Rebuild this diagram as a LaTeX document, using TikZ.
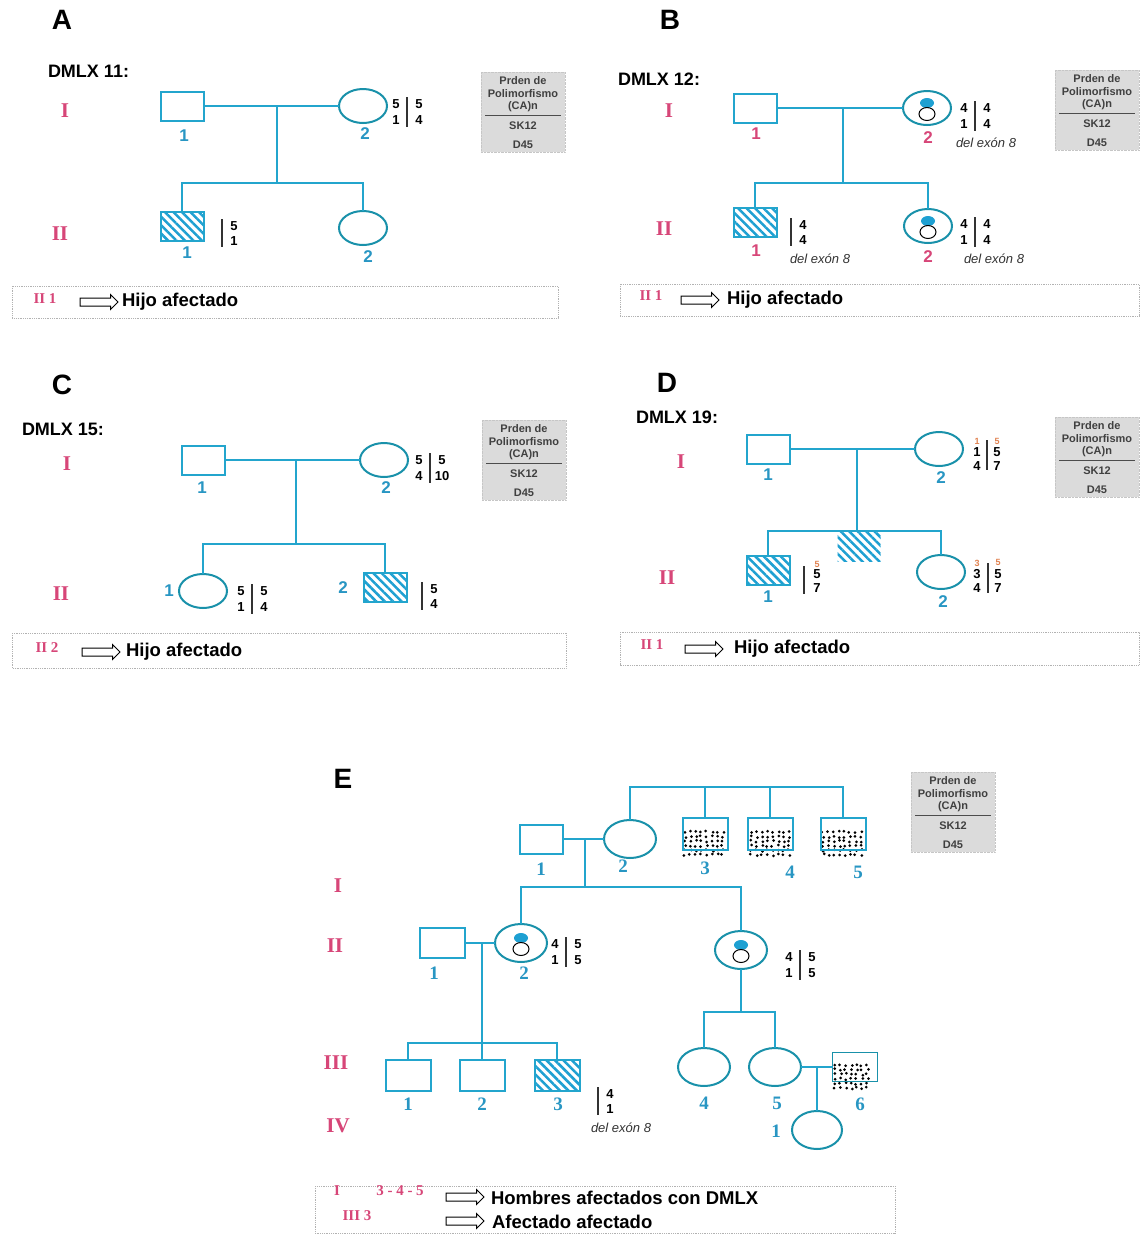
\documentclass[tikz,border=0pt]{standalone}
\usepackage{fontspec}
\setmainfont{Liberation Sans}
\newfontfamily\tmf{Liberation Serif}
\usetikzlibrary{shapes.geometric,shapes.arrows,patterns.meta,calc}
\newcommand{\fz}[1]{\fontsize{#1}{#1}\selectfont}
\definecolor{lc}{RGB}{35,165,205}
\definecolor{oc}{RGB}{25,145,170}
\definecolor{tl}{RGB}{40,150,195}
\definecolor{pk}{RGB}{215,70,120}
\definecolor{hb}{RGB}{30,160,210}
\definecolor{org}{RGB}{225,130,80}
\tikzset{
  every node/.style={inner sep=0pt, outer sep=0pt},
  ln/.style={lc, line width=2pt},
  male/.style={rectangle, draw=lc, line width=2pt, minimum width=43pt, minimum height=29pt},
  fem/.style={ellipse, draw=oc, line width=2pt, minimum width=48pt, minimum height=34pt},
  femE/.style={ellipse, draw=oc, line width=2pt, minimum width=52pt, minimum height=38pt},
  hatch/.style={pattern={Lines[angle=-45,distance=6pt,line width=2.5pt]}, pattern color=hb},
  lbl/.style={text=tl, font=\fz{17}\bfseries},
  lblp/.style={text=pk, font=\fz{17}\bfseries},
  lblE/.style={text=tl, font=\tmf\fz{19}\bfseries},
  gen/.style={text=pk, font=\tmf\fz{21}\bfseries},
  genS/.style={text=pk, font=\tmf\fz{15}\bfseries},
  al/.style={font=\fz{13}\bfseries},
  alo/.style={text=org, font=\fz{9}\bfseries},
  bar/.style={black!80, line width=1.3pt},
  ital/.style={font=\fz{13}\itshape, text=black!80},
  letter/.style={font=\fz{28}\bfseries},
  ttl/.style={font=\fz{18}\bfseries, anchor=west},
  legbg/.style={fill=gray!28, draw=gray!45, densely dotted, minimum width=84pt, minimum height=80pt},
  legt/.style={font=\fz{11}\bfseries, text=black!75},
  botbox/.style={draw=gray!60, densely dotted, line width=0.8pt},
  harrow/.style={single arrow, draw=black, line width=1pt, inner sep=3.5pt, minimum width=15pt, single arrow head extend=3.5pt, minimum height=38pt},
  bigt/.style={font=\fz{18.5}\bfseries, anchor=west},
  carb/.style={ellipse, fill=hb, minimum width=14pt, minimum height=10pt},
  carw/.style={ellipse, fill=white, draw=black, line width=1pt, minimum width=16pt, minimum height=13pt}
}
% allele block: name, bar x, center y, a, b, c, d
\newcommand{\allele}[7]{%
  \node[al] (#1a) at (#2-11,#3-8) {#4};
  \node[al] (#1b) at (#2-11,#3+8) {#5};
  \node[al] (#1c) at (#2+12,#3-8) {#6};
  \node[al] (#1d) at (#2+12,#3+8) {#7};
  \draw[bar] (#2,#3-15) -- (#2,#3+15);}
\newcommand{\halle}[5]{%
  \node[al] (#1c) at (#2+12,#3-7) {#4};
  \node[al] (#1d) at (#2+12,#3+8) {#5};
  \draw[bar] (#2,#3-14) -- (#2,#3+14);}
% legend box: name, center x, top y
\newcommand{\legbox}[3]{%
  \node[legbg, anchor=north] (#1) at (#2,#3) {};
  \node[legt] (#1a) at (#2,#3+9) {Prden de};
  \node[legt] (#1b) at (#2,#3+22) {Polimorfismo};
  \node[legt] (#1c) at (#2,#3+35) {(CA)n};
  \draw[black!70, line width=0.8pt] (#2-38,#3+43) -- (#2+38,#3+43);
  \node[legt] (#1d) at (#2,#3+54) {SK12};
  \node[legt] (#1e) at (#2,#3+73) {D45};}
\newcommand{\carrier}[1]{%
  \node[carb] (#1cb) at ($(#1)+(0,-5)$) {};
  \node[carw] (#1cw) at ($(#1)+(0,6)$) {};}
% random-looking dots: x0, y0, nx, ny
\newcommand{\dotbox}[4]{%
  \foreach \ii in {0,...,#3}{\foreach \jj in {0,...,#4}{%
    \fill[black] ({#1+\ii*5.4+1.3*rand},{#2+\jj*4.6+1.1*rand}) circle[radius=1.5pt];}}}
\begin{document}
\begin{tikzpicture}[x=1pt,y=-1pt]
\pgfmathsetseed{4711}
\useasboundingbox (0,0) rectangle (1140,1235);
\fill[white] (0,0) rectangle (1140,1235);

% ===================== Panel A =====================
\node[letter] (Alet) at (62,20) {A};
\node[ttl] (Attl) at (48,71) {DMLX 11:};
\node[gen] (AgI) at (65,111) {I};
\node[gen] (AgII) at (60,234) {II};
\node[male] (A1) at (182,106) {};
\node[fem] (A2) at (363,106) {};
\node[lbl] (A1l) at (184,136) {1};
\node[lbl] (A2l) at (365,134) {2};
\coordinate (Am) at (277,106);
\coordinate (As) at (277,183);
\node[male,hatch] (A3) at (182,226) {};
\node[fem] (A4) at (363,228) {};
\node[lbl] (A3l) at (187,253) {1};
\node[lbl] (A4l) at (368,257) {2};
\draw[ln] (A1.east) -- (A2.west);
\draw[ln] (Am) -- (As);
\draw[ln] (A3.north) |- (As) -| (A4.north);
\allele{Aa}{407}{112}{5}{1}{5}{4}
\halle{Ab}{222}{233}{5}{1}
\legbox{Aleg}{523}{72}
\draw[botbox] (12,286) rectangle (558,318);
\node[genS] (Abl) at (45,299) {II 1};
\node[harrow] (Aar) at (97,302) {};
\node[bigt] (Abt) at (122,302) {Hijo afectado};

% ===================== Panel B =====================
\node[letter] (Blet) at (670,20) {B};
\node[ttl] (Bttl) at (618,79) {DMLX 12:};
\node[gen] (BgI) at (669,111) {I};
\node[gen] (BgII) at (664,229) {II};
\node[male] (B1) at (755,108) {};
\node[fem] (B2) at (927,108) {};
\carrier{B2}
\node[lblp] (B1l) at (756,134) {1};
\node[lblp] (B2l) at (928,138) {2};
\coordinate (Bm) at (843,108);
\coordinate (Bs) at (843,183);
\node[male,hatch] (B3) at (755,222) {};
\node[fem] (B4) at (928,226) {};
\carrier{B4}
\node[lblp] (B3l) at (756,251) {1};
\node[lblp] (B4l) at (928,257) {2};
\draw[ln] (B1.east) -- (B2.west);
\draw[ln] (Bm) -- (Bs);
\draw[ln] (B3.north) |- (Bs) -| (B4.north);
\allele{Ba}{975}{116}{4}{1}{4}{4}
\node[ital] (Bd1) at (986,143) {del exón 8};
\halle{Bb}{791}{232}{4}{4}
\node[ital] (Bd2) at (820,259) {del exón 8};
\allele{Bc}{975}{232}{4}{1}{4}{4}
\node[ital] (Bd3) at (994,259) {del exón 8};
\legbox{Bleg}{1097}{70}
\draw[botbox] (620,284) rectangle (1139,316);
\node[genS] (Bbl) at (651,296) {II 1};
\node[harrow] (Bar) at (698,300) {};
\node[bigt] (Bbt) at (727,300) {Hijo afectado};

% ===================== Panel C =====================
\node[letter] (Clet) at (62,385) {C};
\node[ttl] (Cttl) at (22,429) {DMLX 15:};
\node[gen] (CgI) at (67,464) {I};
\node[gen] (CgII) at (61,594) {II};
\node[male] (C1) at (203,460) {};
\node[fem] (C2) at (384,460) {};
\node[lbl] (C1l) at (202,488) {1};
\node[lbl] (C2l) at (386,488) {2};
\coordinate (Cm) at (296,460);
\coordinate (Cs) at (296,544);
\node[fem] (C3) at (203,591) {};
\node[male,hatch] (C4) at (385,587) {};
\node[lbl] (C3l) at (169,591) {1};
\node[lbl] (C4l) at (343,588) {2};
\draw[ln] (C1.east) -- (C2.west);
\draw[ln] (Cm) -- (Cs);
\draw[ln] (C3.north) |- (Cs) -| (C4.north);
\allele{Ca}{430}{468}{5}{4}{5}{10}
\allele{Cb}{252}{599}{5}{1}{5}{4}
\halle{Cc}{422}{596}{5}{4}
\legbox{Cleg}{524}{420}
\draw[botbox] (12,633) rectangle (566,668);
\node[genS] (Cbl) at (47,648) {II 2};
\node[harrow] (Car) at (99,652) {};
\node[bigt] (Cbt) at (126,652) {Hijo afectado};

% ===================== Panel D =====================
\node[letter] (Dlet) at (667,383) {D};
\node[ttl] (Dttl) at (636,417) {DMLX 19:};
\node[gen] (DgI) at (681,462) {I};
\node[gen] (DgII) at (667,578) {II};
\node[male] (D1) at (768,449) {};
\node[fem] (D2) at (939,449) {};
\node[lbl] (D1l) at (768,475) {1};
\node[lbl] (D2l) at (941,478) {2};
\coordinate (Dm) at (857,449);
\coordinate (Ds) at (857,531);
\node[hatch, minimum width=43pt, minimum height=30pt] (Dx) at (859,546) {};
\node[male,hatch] (D3) at (768,570) {};
\node[fem] (D4) at (941,572) {};
\node[lbl] (D3l) at (768,597) {1};
\node[lbl] (D4l) at (943,602) {2};
\draw[ln] (D1.east) -- (D2.west);
\draw[ln] (Dm) -- (Ds);
\draw[ln] (D3.north) |- (Ds) -| (D4.north);
% D I-2 alleles
\node[alo] (Dao1) at (977,441) {1};
\node[alo] (Dao2) at (997,441) {5};
\node[al] (Da1) at (977,452) {1};
\node[al] (Da2) at (977,466) {4};
\node[al] (Da3) at (997,452) {5};
\node[al] (Da4) at (997,466) {7};
\draw[bar] (987,440) -- (987,470);
% D II-1
\node[alo] (Dbo) at (817,564) {5};
\node[al] (Db1) at (817,574) {5};
\node[al] (Db2) at (817,588) {7};
\draw[bar] (804,566) -- (804,594);
% D II-2
\node[alo] (Dco1) at (977,563) {3};
\node[alo] (Dco2) at (998,562) {5};
\node[al] (Dc1) at (977,574) {3};
\node[al] (Dc2) at (977,588) {4};
\node[al] (Dc3) at (998,574) {5};
\node[al] (Dc4) at (998,588) {7};
\draw[bar] (988,563) -- (988,593);
\legbox{Dleg}{1097}{417}
\draw[botbox] (620,632) rectangle (1139,665);
\node[genS] (Dbl) at (652,645) {II 1};
\node[harrow] (Dar) at (702,649) {};
\node[bigt] (Dbt) at (734,649) {Hijo afectado};

% ===================== Panel E =====================
\node[letter] (Elet) at (343,779) {E};
\legbox{Eleg}{953}{772}
\node[gen] (EgI) at (338,886) {I};
\node[gen] (EgII) at (335,946) {II};
\node[gen] (EgIII) at (336,1063) {III};
\node[gen] (EgIV) at (338,1126) {IV};
% generation I
\node[male] (E1) at (541,839) {};
\node[femE] (E2) at (630,839) {};
\node[lblE] (E1l) at (541,869) {1};
\node[lblE] (E2l) at (623,866) {2};
\dotbox{685}{832}{7}{5}
\dotbox{751}{832}{7}{5}
\dotbox{823}{832}{7}{5}
\node[male, minimum width=45pt, minimum height=32pt] (E3) at (705,834) {};
\node[male, minimum width=45pt, minimum height=32pt] (E4) at (770,834) {};
\node[male, minimum width=45pt, minimum height=32pt] (E5) at (843,834) {};
\node[lblE] (E3l) at (705,868) {3};
\node[lblE] (E4l) at (790,872) {4};
\node[lblE] (E5l) at (858,872) {5};
\coordinate (Et) at (630,787);
\draw[ln] (E2.north) -- (Et) -| (E5.north);
\draw[ln] (E3.north) -- (E3.north |- Et);
\draw[ln] (E4.north) -- (E4.north |- Et);
\coordinate (Em) at (585,839);
\coordinate (Es) at (585,887);
\draw[ln] (E1.east) -- (E2.west);
\draw[ln] (Em) -- (Es);
% generation II
\node[male, minimum width=45pt, minimum height=30pt] (E6) at (442,943) {};
\node[femE] (E7) at (521,943) {};
\carrier{E7}
\node[femE] (E8) at (741,950) {};
\carrier{E8}
\node[lblE] (E6l) at (434,973) {1};
\node[lblE] (E7l) at (524,973) {2};
\draw[ln] (E7.north) |- (Es) -| (E8.north);
\allele{Ea}{566}{952}{4}{1}{5}{5}
\allele{Eb}{800}{965}{4}{1}{5}{5}
\coordinate (Em2) at (482,943);
\coordinate (Es2) at (482,1043);
\draw[ln] (E6.east) -- (E7.west);
\draw[ln] (Em2) -- (Es2);
% generation III
\node[male, minimum width=45pt, minimum height=31pt] (E9) at (408,1075) {};
\node[male, minimum width=45pt, minimum height=31pt] (E10) at (482,1075) {};
\node[male, hatch, minimum width=45pt, minimum height=31pt] (E11) at (557,1075) {};
\node[lblE] (E9l) at (408,1104) {1};
\node[lblE] (E10l) at (482,1104) {2};
\node[lblE] (E11l) at (558,1104) {3};
\draw[ln] (E9.north) |- (Es2) -| (E11.north);
\draw[ln] (E10.north) -- (E10.north |- Es2);
\halle{Ec}{598}{1101}{4}{1}
\node[ital] (Ed) at (621,1128) {del exón 8};
\coordinate (Es3) at (741,1012);
\node[femE] (E12) at (704,1067) {};
\node[femE] (E13) at (775,1067) {};
\node[lblE] (E12l) at (704,1103) {4};
\node[lblE] (E13l) at (777,1103) {5};
\draw[ln] (E8.south) -- (Es3);
\draw[ln] (E12.north) |- (Es3) -| (E13.north);
\dotbox{835}{1065}{6}{5}
\node[rectangle, draw=oc, line width=1pt, minimum width=45pt, minimum height=29pt] (E14) at (855,1067) {};
\node[lblE] (E14l) at (860,1104) {6};
\draw[ln] (E13.east) -- (E14.west);
\coordinate (Em3) at (817,1067);
\node[femE, minimum width=50pt] (E15) at (817,1130) {};
\node[lblE] (E15l) at (776,1131) {1};
\draw[ln] (Em3) -- (E15.north);
% legend
\draw[botbox] (315,1186) rectangle (895,1233);
\node[genS] (Eb1) at (337,1191) {I};
\node[genS] (Eb2) at (400,1191) {3 - 4 - 5};
\node[genS] (Eb3) at (357,1216) {III 3};
\node[harrow] (Ear1) at (463,1197) {};
\node[harrow] (Ear2) at (463,1221) {};
\node[bigt] (Ebt1) at (491,1198) {Hombres afectados con DMLX};
\node[bigt] (Ebt2) at (492,1222) {Afectado afectado};
\end{tikzpicture}
\end{document}
